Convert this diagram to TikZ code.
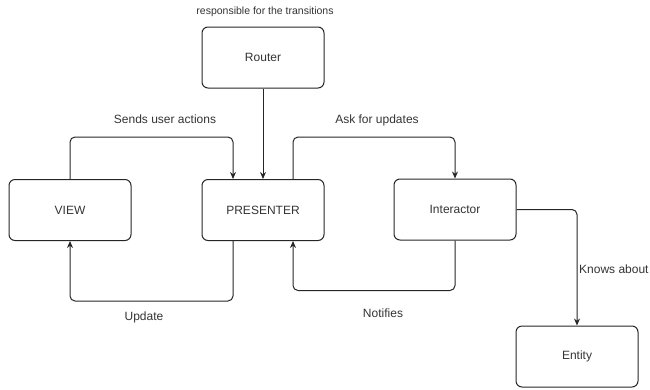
\documentclass[tikz,border=0pt]{standalone}
\usepackage{fontspec}
\setmainfont{Liberation Sans}
\usetikzlibrary{arrows.meta,calc}
\definecolor{txt}{HTML}{333333}
\tikzset{
  box/.style={draw=black!85, line width=1pt, rounded corners=6pt, minimum width=122pt, minimum height=61pt, inner sep=0pt, text=txt, font=\fontsize{12}{14}\selectfont},
  lbl/.style={text=txt, inner sep=1pt, font=\fontsize{12}{14}\selectfont},
  conn/.style={draw=black!85, line width=1pt, rounded corners=5pt, -{Stealth[length=7pt,width=6pt]}}
}
\begin{document}
\begin{tikzpicture}[x=1pt,y=-1pt]
\useasboundingbox (0,0) rectangle (650,389);
\node[box] (router) at (263,57.5) {Router};
\node[box] (view) at (70,210) {VIEW};
\node[box] (pres) at (263,210) {PRESENTER};
\node[box] (inter) at (455,209.5) {Interactor};
\node[box] (entity) at (577,356.5) {Entity};

\node[lbl, font=\fontsize{10.5}{12}\selectfont] (resp) at (265,12) {responsible for the transitions};
\node[lbl] (sends) at (165,119) {Sends user actions};
\node[lbl] (ask) at (377,120) {Ask for updates};
\node[lbl, anchor=west] (knows) at (578,269) {Knows about};
\node[lbl] (upd) at (144,317) {Update};
\node[lbl] (notif) at (383,313) {Notifies};

\draw[conn] (router) -- (pres);
\draw[conn] (view.north) -- ++(0,-42) -| ([xshift=-30pt]pres.north);
\draw[conn] ([xshift=30pt]pres.north) -- ++(0,-42) -| (inter.north);
\draw[conn] (inter.east) -| (entity.north);
\draw[conn] ([xshift=-30pt]pres.south) -- ++(0,60) -| (view.south);
\draw[conn] (inter.south) -- ++(0,50) -| ([xshift=30pt]pres.south);
\end{tikzpicture}
\end{document}
